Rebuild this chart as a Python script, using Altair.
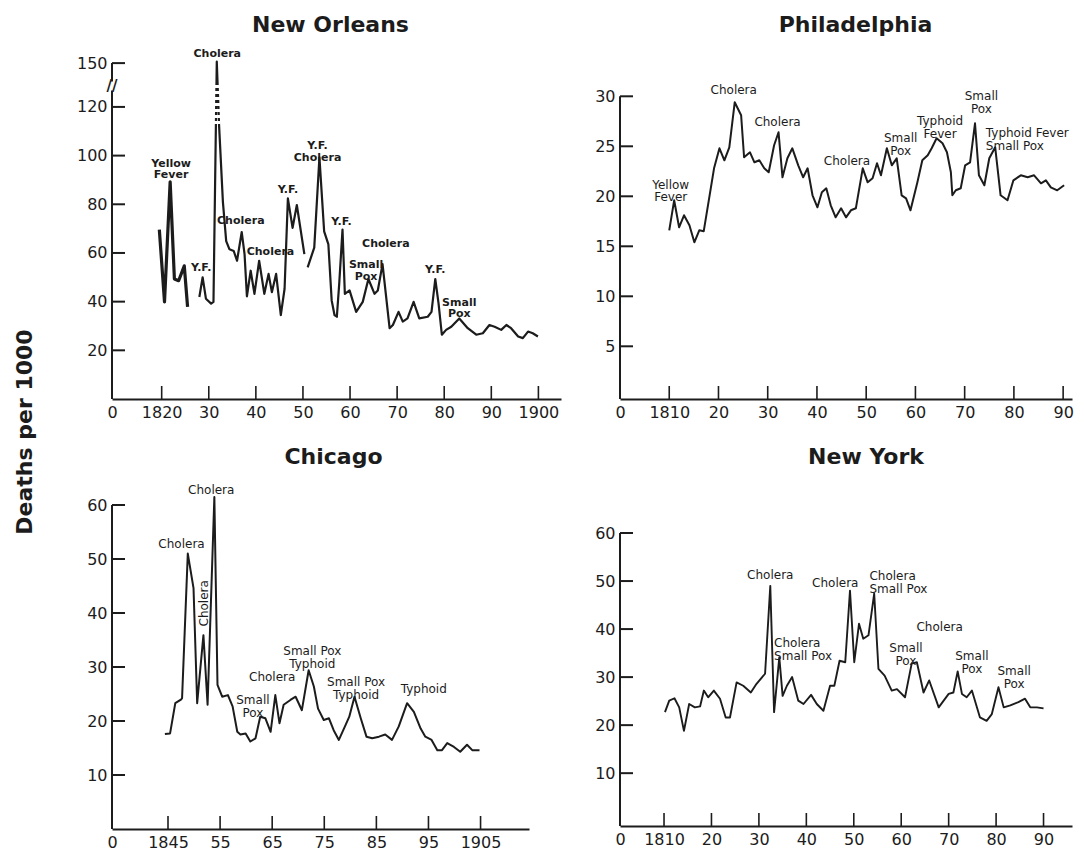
import altair as alt
import pandas as pd

FONT = "DejaVu Sans"
INK = "#1c1c1c"

# ---------------- New Orleans ----------------
no_a_years = [1819.5, 1820.6, 1821.8, 1822.7, 1823.6, 1824.8, 1825.5]
no_a_vals = [69.6, 39.9, 89.2, 49.3, 48.6, 54.7, 37.8]
no_b_years = [1828.0, 1828.7, 1829.4, 1830.5, 1831.0, 1831.7, 1832.2, 1833.0, 1833.7, 1834.4,
              1835.3, 1836.0, 1837.0, 1837.6, 1838.1, 1838.9, 1839.7, 1840.7, 1841.8, 1842.7,
              1843.4, 1844.3, 1845.3, 1846.1, 1846.8, 1847.8, 1848.7, 1850.3]
no_b_vals = [41.9, 50.0, 41.2, 39.2, 39.9, 151, 112, 81, 64.9, 61.5,
             60.8, 56.8, 68.6, 59.5, 42.2, 52.7, 43.2, 56.8, 43.2, 51.4,
             43.9, 51.4, 34.5, 45.3, 82.4, 70.3, 79.7, 59.5]
no_c_years = [1851.0, 1852.4, 1853.5, 1854.5, 1855.4, 1856.1, 1856.7, 1857.2, 1857.7, 1858.4,
              1858.9, 1859.9, 1861.3, 1862.7, 1863.9, 1865.2, 1865.9, 1866.9, 1868.4, 1869.1,
              1870.3, 1871.2, 1872.2, 1873.5, 1874.7, 1876.5, 1877.3, 1878.1, 1878.8, 1879.5,
              1880.4, 1881.5, 1883.2, 1885.0, 1886.8, 1888.2, 1889.6, 1890.7, 1892.1, 1893.2,
              1894.2, 1895.7, 1896.7, 1897.8, 1898.8, 1899.9]
no_c_vals = [54.1, 62.2, 99.3, 68.9, 63.5, 40.5, 34.5, 33.8, 47.3, 69.6,
             43.2, 44.6, 35.8, 39.9, 49.3, 43.2, 44.6, 55.4, 29.1, 30.4,
             35.8, 31.8, 33.1, 39.9, 33.1, 33.8, 35.8, 49.3, 39.2, 26.4,
             28.4, 29.7, 33.1, 29.1, 26.4, 27.0, 30.4, 29.7, 28.4, 30.4,
             29.1, 25.7, 25.0, 27.7, 27.0, 25.7]
no_xticks = [1820, 1830, 1840, 1850, 1860, 1870, 1880, 1890, 1900]
no_xlabels = ["1820", "30", "40", "50", "60", "70", "80", "90", "1900"]
no_yticks = [20, 40, 60, 80, 100, 120, 150]
no_ann_text = ["Cholera", "Yellow\nFever", "Y.F.", "Cholera", "Cholera", "Y.F.", "Y.F.\nCholera",
               "Y.F.", "Small\nPox", "Cholera", "Y.F.", "Small\nPox"]
no_ann_year = [1831.8, 1822.0, 1828.4, 1836.8, 1843.1, 1846.8, 1853.1,
               1858.2, 1863.4, 1867.6, 1878.1, 1883.2]
no_ann_val = [156, 96.6, 54.0, 73.0, 60.5, 85.8, 103.9,
              72.7, 55.0, 63.5, 53.0, 39.5]
no_dots_year = [1831.75]
no_dots_from = [113]
no_dots_to = [136]

# ---------------- Philadelphia ----------------
ph_years = [1810.0, 1811.0, 1812.0, 1813.0, 1814.1, 1815.1, 1816.1, 1817.0, 1818.1, 1819.1,
            1820.2, 1821.2, 1822.2, 1823.3, 1824.6, 1825.2, 1826.4, 1827.3, 1828.3, 1829.3,
            1830.2, 1831.3, 1832.2, 1833.0, 1834.0, 1835.0, 1836.2, 1837.2, 1838.1, 1839.1,
            1840.1, 1841.0, 1841.9, 1842.8, 1843.8, 1844.9, 1845.9, 1846.9, 1847.9, 1849.3,
            1850.3, 1851.3, 1852.2, 1853.0, 1854.2, 1855.2, 1856.2, 1857.2, 1858.1, 1859.0,
            1860.4, 1861.4, 1862.5, 1863.3, 1864.3, 1865.5, 1866.4, 1867.2, 1867.5, 1868.2,
            1869.2, 1870.1, 1871.1, 1872.1, 1872.9, 1874.0, 1875.0, 1876.2, 1877.3, 1878.7,
            1879.9, 1881.4, 1882.8, 1884.1, 1885.5, 1886.5, 1887.5, 1888.8, 1890.2]
ph_vals = [16.6, 19.6, 16.9, 18.1, 17.1, 15.4, 16.6, 16.5, 19.8, 22.8,
           24.8, 23.6, 24.9, 29.4, 28.1, 23.9, 24.4, 23.4, 23.6, 22.8,
           22.4, 25.1, 26.4, 21.9, 23.8, 24.8, 23.1, 21.9, 22.8, 20.1,
           18.9, 20.4, 20.8, 19.1, 17.9, 18.8, 17.9, 18.6, 18.8, 22.8,
           21.4, 21.8, 23.3, 22.1, 24.8, 23.1, 23.8, 20.1, 19.8, 18.6,
           21.4, 23.6, 24.1, 24.8, 25.8, 25.3, 24.4, 22.4, 20.1, 20.6,
           20.8, 23.1, 23.4, 27.3, 22.1, 21.1, 23.8, 24.9, 20.1, 19.6,
           21.6, 22.1, 21.9, 22.1, 21.3, 21.6, 20.9, 20.6, 21.1]
ph_xticks = [1810, 1820, 1830, 1840, 1850, 1860, 1870, 1880, 1890]
ph_xlabels = ["1810", "20", "30", "40", "50", "60", "70", "80", "90"]
ph_yticks = [5, 10, 15, 20, 25, 30]
ph_ann_text = ["Yellow\nFever", "Cholera", "Cholera", "Cholera", "Small\nPox", "Typhoid\nFever", "Small\nPox"]
ph_ann_year = [1810.3, 1823.1, 1832.0, 1846.1, 1857.0, 1865.0, 1873.4]
ph_ann_val = [21.15, 30.6, 27.4, 23.5, 25.8, 27.5, 30.0]
ph_left_text = ["Typhoid Fever\nSmall Pox"]
ph_left_year = [1874.3]
ph_left_val = [26.35]

# ---------------- Chicago ----------------
ch_years = [1844.4, 1845.4, 1846.4, 1847.4, 1847.7, 1848.8, 1849.9, 1850.6, 1851.8, 1852.6,
            1853.9, 1854.5, 1855.4, 1856.5, 1857.4, 1858.3, 1858.9, 1859.9, 1860.8, 1861.8,
            1862.7, 1863.7, 1864.7, 1865.6, 1866.4, 1867.2, 1868.5, 1869.5, 1870.7, 1872.0,
            1873.0, 1873.8, 1874.9, 1875.9, 1876.8, 1877.8, 1879.1, 1879.8, 1880.8, 1882.0,
            1883.1, 1884.2, 1885.5, 1886.7, 1888.0, 1889.3, 1890.9, 1892.2, 1893.5, 1894.4,
            1895.6, 1896.7, 1897.6, 1898.6, 1899.9, 1901.1, 1902.4, 1903.4, 1904.8]
ch_vals = [17.6, 17.7, 23.3, 23.9, 24.2, 51.0, 44.6, 23.3, 35.9, 23.0,
           61.5, 26.7, 24.5, 24.8, 22.7, 18.0, 17.5, 17.7, 16.2, 16.8,
           20.8, 20.5, 18.0, 24.8, 19.6, 23.0, 23.9, 24.5, 22.0, 29.4,
           26.4, 22.3, 20.2, 20.5, 18.3, 16.5, 19.3, 20.8, 24.5, 20.5,
           17.1, 16.8, 17.1, 17.5, 16.5, 19.0, 23.3, 21.7, 18.6, 17.1,
           16.5, 14.6, 14.6, 15.9, 15.2, 14.3, 15.6, 14.6, 14.6]
ch_xticks = [1845, 1855, 1865, 1875, 1885, 1895, 1905]
ch_xlabels = ["1845", "55", "65", "75", "85", "95", "1905"]
ch_yticks = [10, 20, 30, 40, 50, 60]
ch_ann_text = ["Cholera", "Cholera", "Small\nPox", "Cholera", "Small Pox\nTyphoid", "Small Pox\nTyphoid", "Typhoid"]
ch_ann_year = [1853.3, 1847.6, 1861.3, 1865.0, 1872.7, 1881.1, 1894.1]
ch_ann_val = [62.8, 52.7, 23.8, 28.2, 32.9, 27.15, 25.9]
ch_vert_text = ["Cholera"]
ch_vert_year = [1851.9]
ch_vert_val = [41.8]

# ---------------- New York ----------------
ny_years = [1810.2, 1811.1, 1812.2, 1813.2, 1814.2, 1815.3, 1816.5, 1817.6, 1818.4, 1819.3,
            1820.5, 1821.8, 1823.0, 1823.9, 1825.3, 1826.7, 1828.3, 1829.5, 1831.3, 1832.4,
            1833.2, 1834.3, 1835.0, 1835.9, 1837.0, 1838.3, 1839.4, 1841.0, 1842.2, 1843.6,
            1845.0, 1845.9, 1847.0, 1848.2, 1849.2, 1850.1, 1851.1, 1852.0, 1853.1, 1854.3,
            1855.2, 1856.5, 1858.0, 1859.1, 1860.8, 1862.2, 1863.3, 1864.7, 1865.9, 1867.9,
            1870.0, 1871.0, 1871.9, 1872.8, 1873.8, 1874.9, 1876.6, 1878.0, 1879.1, 1880.5,
            1881.6, 1883.0, 1884.7, 1886.1, 1887.2, 1888.6, 1890.0]
ny_vals = [22.7, 25.1, 25.6, 23.7, 18.8, 24.4, 23.7, 23.9, 27.2, 25.8,
           27.2, 25.5, 21.6, 21.6, 28.9, 28.2, 26.8, 28.6, 30.7, 49.0,
           22.7, 34.1, 26.1, 28.2, 30.0, 25.1, 24.4, 26.3, 24.4, 23.0,
           28.2, 28.2, 33.4, 33.1, 48.0, 33.1, 41.1, 38.0, 38.7, 47.4,
           31.7, 30.3, 27.2, 27.5, 25.8, 32.8, 33.1, 26.8, 29.3, 23.7,
           26.5, 26.8, 31.2, 26.5, 25.8, 27.2, 21.6, 20.9, 22.3, 27.9,
           23.7, 24.1, 24.8, 25.5, 23.7, 23.7, 23.5]
ny_xticks = [1810, 1820, 1830, 1840, 1850, 1860, 1870, 1880, 1890]
ny_xlabels = ["1810", "20", "30", "40", "50", "60", "70", "80", "90"]
ny_yticks = [10, 20, 30, 40, 50, 60]
ny_ann_text = ["Cholera", "Cholera", "Small\nPox", "Cholera", "Small\nPox", "Small\nPox"]
ny_ann_year = [1832.4, 1846.1, 1861.0, 1868.1, 1874.9, 1883.8]
ny_ann_val = [51.3, 49.6, 36.1, 40.4, 34.45, 31.3]
ny_left_text = ["Cholera\nSmall Pox", "Cholera\nSmall Pox"]
ny_left_year = [1833.2, 1853.3]
ny_left_val = [37.2, 51.15]

# broken y scale of New Orleans above 120
BREAK_AT = 120
BREAK_K = 0.6
PLAIN = "datum.v"


def brk_expr(f):
    return f"datum.{f} > {BREAK_AT} ? {BREAK_AT} + (datum.{f} - {BREAK_AT}) * {BREAK_K} : datum.{f}"


def disp(v):
    return v if v <= BREAK_AT else BREAK_AT + (v - BREAK_AT) * BREAK_K


def lab_expr(vals, labels):
    parts = [f"abs(datum.value - ({v})) < 0.01 ? '{l}'" for v, l in zip(vals, labels)]
    return " : ".join(parts) + " : ''"


def axis_x(vals, labels):
    return alt.Axis(values=vals, labelExpr=lab_expr(vals, labels), title=None, grid=False,
                    ticks=False, tickSize=0, domain=True, domainColor=INK, domainWidth=2,
                    labelFont=FONT, labelFontSize=16, labelColor=INK, labelPadding=5,
                    labelFlush=False, labelOverlap=False, labelBound=False)


def axis_y(vals, labels):
    return alt.Axis(values=vals, labelExpr=lab_expr(vals, labels), title=None, grid=False,
                    ticks=False, tickSize=0, domain=False, labelFont=FONT, labelFontSize=16,
                    labelColor=INK, labelPadding=5, labelFlush=False, labelOverlap=False,
                    labelBound=False)


def panel(W, H, xdom, ydom, xticks, xlabels, ytick_pos, ytick_labels,
          yseg, lines, texts, expr=PLAIN):
    xs = alt.Scale(domain=xdom, nice=False, zero=False)
    ys = alt.Scale(domain=ydom, nice=False, zero=False)
    ax = axis_x([xdom[0]] + xticks, ["0"] + xlabels)
    ay = axis_y(ytick_pos, ytick_labels)

    def X(f):
        return alt.X(f, scale=xs, axis=ax)

    def Y(f):
        return alt.Y(f, scale=ys, axis=ay)

    layers = []
    seg_df = pd.DataFrame({"y0": [s[0] for s in yseg], "y1": [s[1] for s in yseg]})
    layers.append(alt.Chart(seg_df).mark_rule(color=INK, strokeWidth=2).encode(
        x=alt.value(0), y=Y("y0:Q"), y2="y1:Q"))
    layers.append(alt.Chart(pd.DataFrame({"p": ytick_pos})).mark_rule(color=INK, strokeWidth=2).encode(
        x=alt.value(0), x2=alt.value(13), y=Y("p:Q")))
    layers.append(alt.Chart(pd.DataFrame({"yr": xticks})).mark_rule(color=INK, strokeWidth=1.6).encode(
        x=X("yr:Q"), y=alt.value(H), y2=alt.value(H - 13)))
    for yrs, vals, sw in lines:
        df = pd.DataFrame({"yr": yrs, "v": vals})
        layers.append(alt.Chart(df).transform_calculate(d=expr).mark_line(
            color=INK, strokeWidth=sw, strokeJoin="round").encode(x=X("yr:Q"), y=Y("d:Q")))
    for txt, yrs, vals, props in texts:
        df = pd.DataFrame({"t": txt, "yr": yrs, "v": vals})
        layers.append(alt.Chart(df).transform_calculate(d=expr).mark_text(
            font=FONT, color=INK, baseline="middle", lineBreak="\n", **props).encode(
            x=X("yr:Q"), y=Y("d:Q"), text="t:N"))
    return layers, X, Y


def ttl(text, dx, off):
    return alt.TitleParams(text, font=FONT, fontSize=22, fontWeight="bold", color=INK,
                           anchor="middle", frame="group", dx=dx, offset=off)


# ---- New Orleans ----
NO_W, NO_H = 449, 341
no_layers, NX, NY_ = panel(
    NO_W, NO_H, [1809.45, 1904.8], [0, 140.1],
    no_xticks, no_xlabels, [disp(v) for v in no_yticks], [str(v) for v in no_yticks],
    [(0, 126.7), (130.4, disp(150))],
    [(no_a_years, no_a_vals, 3.2), (no_b_years, no_b_vals, 2.2), (no_c_years, no_c_vals, 2.2)],
    [(no_ann_text, no_ann_year, no_ann_val,
      dict(fontSize=11, fontWeight="bold", align="center", lineHeight=11.5))],
    expr=brk_expr("v"))
dots = alt.Chart(pd.DataFrame({"yr": no_dots_year, "a": no_dots_from, "b": no_dots_to})).transform_calculate(
    d=brk_expr("a"), d2=brk_expr("b"),
).mark_rule(color="white", strokeWidth=7, strokeDash=[3, 3]).encode(
    x=NX("yr:Q"), y=NY_("d:Q"), y2="d2:Q")
brk = alt.Chart(pd.DataFrame({"p": [128.5]})).mark_text(
    text="//", font=FONT, fontSize=15, fontWeight="bold", color=INK).encode(
    x=alt.value(0), y=NY_("p:Q"))
no_chart = alt.layer(*no_layers, dots, brk).properties(
    width=NO_W, height=NO_H, title=ttl("New Orleans", -6, 11))

# ---- Philadelphia ----
PH_W, PH_H = 452, 341
ph_layers, _, _ = panel(
    PH_W, PH_H, [1800.0, 1891.8], [-0.27, 33.83],
    ph_xticks, ph_xlabels, ph_yticks, [str(v) for v in ph_yticks],
    [(-0.27, 30)],
    [(ph_years, ph_vals, 2.0)],
    [(ph_ann_text, ph_ann_year, ph_ann_val, dict(fontSize=12, align="center", lineHeight=12.5)),
     (ph_left_text, ph_left_year, ph_left_val, dict(fontSize=12, align="left", lineHeight=13))])
ph_chart = alt.layer(*ph_layers).properties(
    width=PH_W, height=PH_H, title=ttl("Philadelphia", 9.5, 21))

# ---- Chicago ----
CH_W, CH_H = 417, 331
ch_layers, _, _ = panel(
    CH_W, CH_H, [1834.25, 1914.3], [0, 61.3],
    ch_xticks, ch_xlabels, ch_yticks, [str(v) for v in ch_yticks],
    [(0, 60)],
    [(ch_years, ch_vals, 2.0)],
    [(ch_ann_text, ch_ann_year, ch_ann_val, dict(fontSize=12, align="center", lineHeight=13)),
     (ch_vert_text, ch_vert_year, ch_vert_val, dict(fontSize=12, align="center", angle=270))])
ch_chart = alt.layer(*ch_layers).properties(
    width=CH_W, height=CH_H, title=ttl("Chicago", 13, 15))

# ---- New York ----
NY_W, NY_H = 452, 328
ny_layers, _, _ = panel(
    NY_W, NY_H, [1800.72, 1896.0], [-1, 67.29],
    ny_xticks, ny_xlabels, ny_yticks, [str(v) for v in ny_yticks],
    [(-1, 60)],
    [(ny_years, ny_vals, 1.9)],
    [(ny_ann_text, ny_ann_year, ny_ann_val, dict(fontSize=12, align="center", lineHeight=13)),
     (ny_left_text, ny_left_year, ny_left_val, dict(fontSize=12, align="left", lineHeight=13.5))])
ny_chart = alt.layer(*ny_layers).properties(
    width=NY_W, height=NY_H, title=ttl("New York", 20, 29))

chart = alt.concat(
    no_chart, ph_chart, ch_chart, ny_chart,
    columns=2, spacing={"row": 99, "column": 59}, bounds="flush", align="each",
).properties(
    title=alt.TitleParams("Deaths per 1000", orient="left", anchor="middle", font=FONT,
                          fontSize=22, fontWeight="bold", color=INK, offset=39),
    padding={"left": 5, "top": 5, "right": 2, "bottom": 2},
).configure(background="white").configure_view(stroke="transparent")

chart.save("out.html", embed_options={"renderer": "svg", "actions": False})
